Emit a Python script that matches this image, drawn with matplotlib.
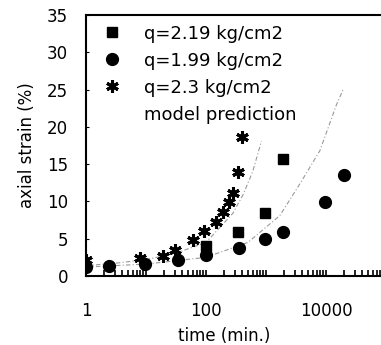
import numpy as np
import matplotlib.pyplot as plt
from matplotlib.ticker import LogLocator, NullFormatter, FixedLocator

plt.rcParams['font.family'] = ['DejaVu Sans']

t_q219 = [100, 345, 960, 1900]
e_q219 = [4.0, 5.9, 8.4, 15.7]

t_q199 = [1, 2.45, 9.6, 34.5, 100, 360, 975, 1950, 9600, 19950]
e_q199 = [1.2, 1.4, 1.6, 2.2, 2.8, 3.8, 4.9, 5.9, 9.9, 13.6]

t_q23 = [1, 7.9, 19.4, 31, 60, 94, 145, 194, 245, 285, 345, 398]
e_q23 = [2.1, 2.4, 2.7, 3.5, 4.8, 6.1, 7.3, 8.6, 9.9, 11.1, 13.9, 18.6]

# model prediction curves
t_model1 = [1, 3, 10, 30, 100, 280, 420, 600, 840]
e_model1 = [1.4, 1.7, 2.2, 3.0, 4.5, 8.4, 11.0, 14.0, 18.1]
t_model2 = [1, 10, 100, 500, 1700, 3700, 7900, 15000, 19300]
e_model2 = [1.2, 1.6, 2.5, 4.5, 8.1, 12.4, 16.8, 23.0, 25.0]

fig = plt.figure(figsize=(3.81, 3.45), dpi=100)
ax = fig.add_axes([86 / 381, 69 / 345, 300 / 381, 261 / 345])

line_m, = ax.plot(t_model1, e_model1, color='#9a9a9a', lw=0.8,
                  ls=(0, (4, 2, 1, 2)), label='model prediction')
ax.plot(t_model2, e_model2, color='#9a9a9a', lw=0.8, ls=(0, (4, 2, 1, 2)))

ax.plot(t_q219, e_q219, ls='none', marker='s', ms=6.5, color='black',
        label='q=2.19 kg/cm2')
ax.plot(t_q199, e_q199, ls='none', marker='o', ms=8.5, color='black',
        label='q=1.99 kg/cm2')
ax.plot(t_q23, e_q23, ls='none', marker=(6, 2, 0), ms=9, mew=2.2,
        color='black', label='q=2.3 kg/cm2')

ax.set_xscale('log')
ax.set_xlim(1, 1e5)
ax.set_ylim(0, 35)
ax.xaxis.set_major_locator(FixedLocator([1, 100, 10000]))
ax.xaxis.set_major_formatter(plt.FuncFormatter(lambda v, p: '%d' % v))
ax.xaxis.set_minor_locator(LogLocator(base=10, subs=np.arange(1, 10)))
ax.xaxis.set_minor_formatter(NullFormatter())
ax.set_yticks(np.arange(0, 36, 5))

ax.tick_params(axis='x', which='both', direction='in', length=4, width=1.2,
               labelsize=12, pad=19)
ax.tick_params(axis='y', direction='in', length=2, labelsize=12, pad=13)

for s in ['left', 'bottom', 'top']:
    ax.spines[s].set_linewidth(1.5)
ax.spines['right'].set_visible(False)

ax.set_xlabel('time (min.)', fontsize=12)
ax.xaxis.set_label_coords(0.46, -0.195)
ax.set_ylabel('axial strain (%)', fontsize=12, labelpad=8)

h, l = ax.get_legend_handles_labels()
order = [1, 2, 3, 0]
leg = ax.legend([h[i] for i in order], [l[i] for i in order], loc='upper left',
                bbox_to_anchor=(0.0, 1.012), frameon=False, fontsize=13,
                handlelength=1.5, handletextpad=1.0, labelspacing=0.5,
                borderaxespad=0.3)
leg.legend_handles[3].set_visible(False)

fig.savefig('out.png', dpi=100)
